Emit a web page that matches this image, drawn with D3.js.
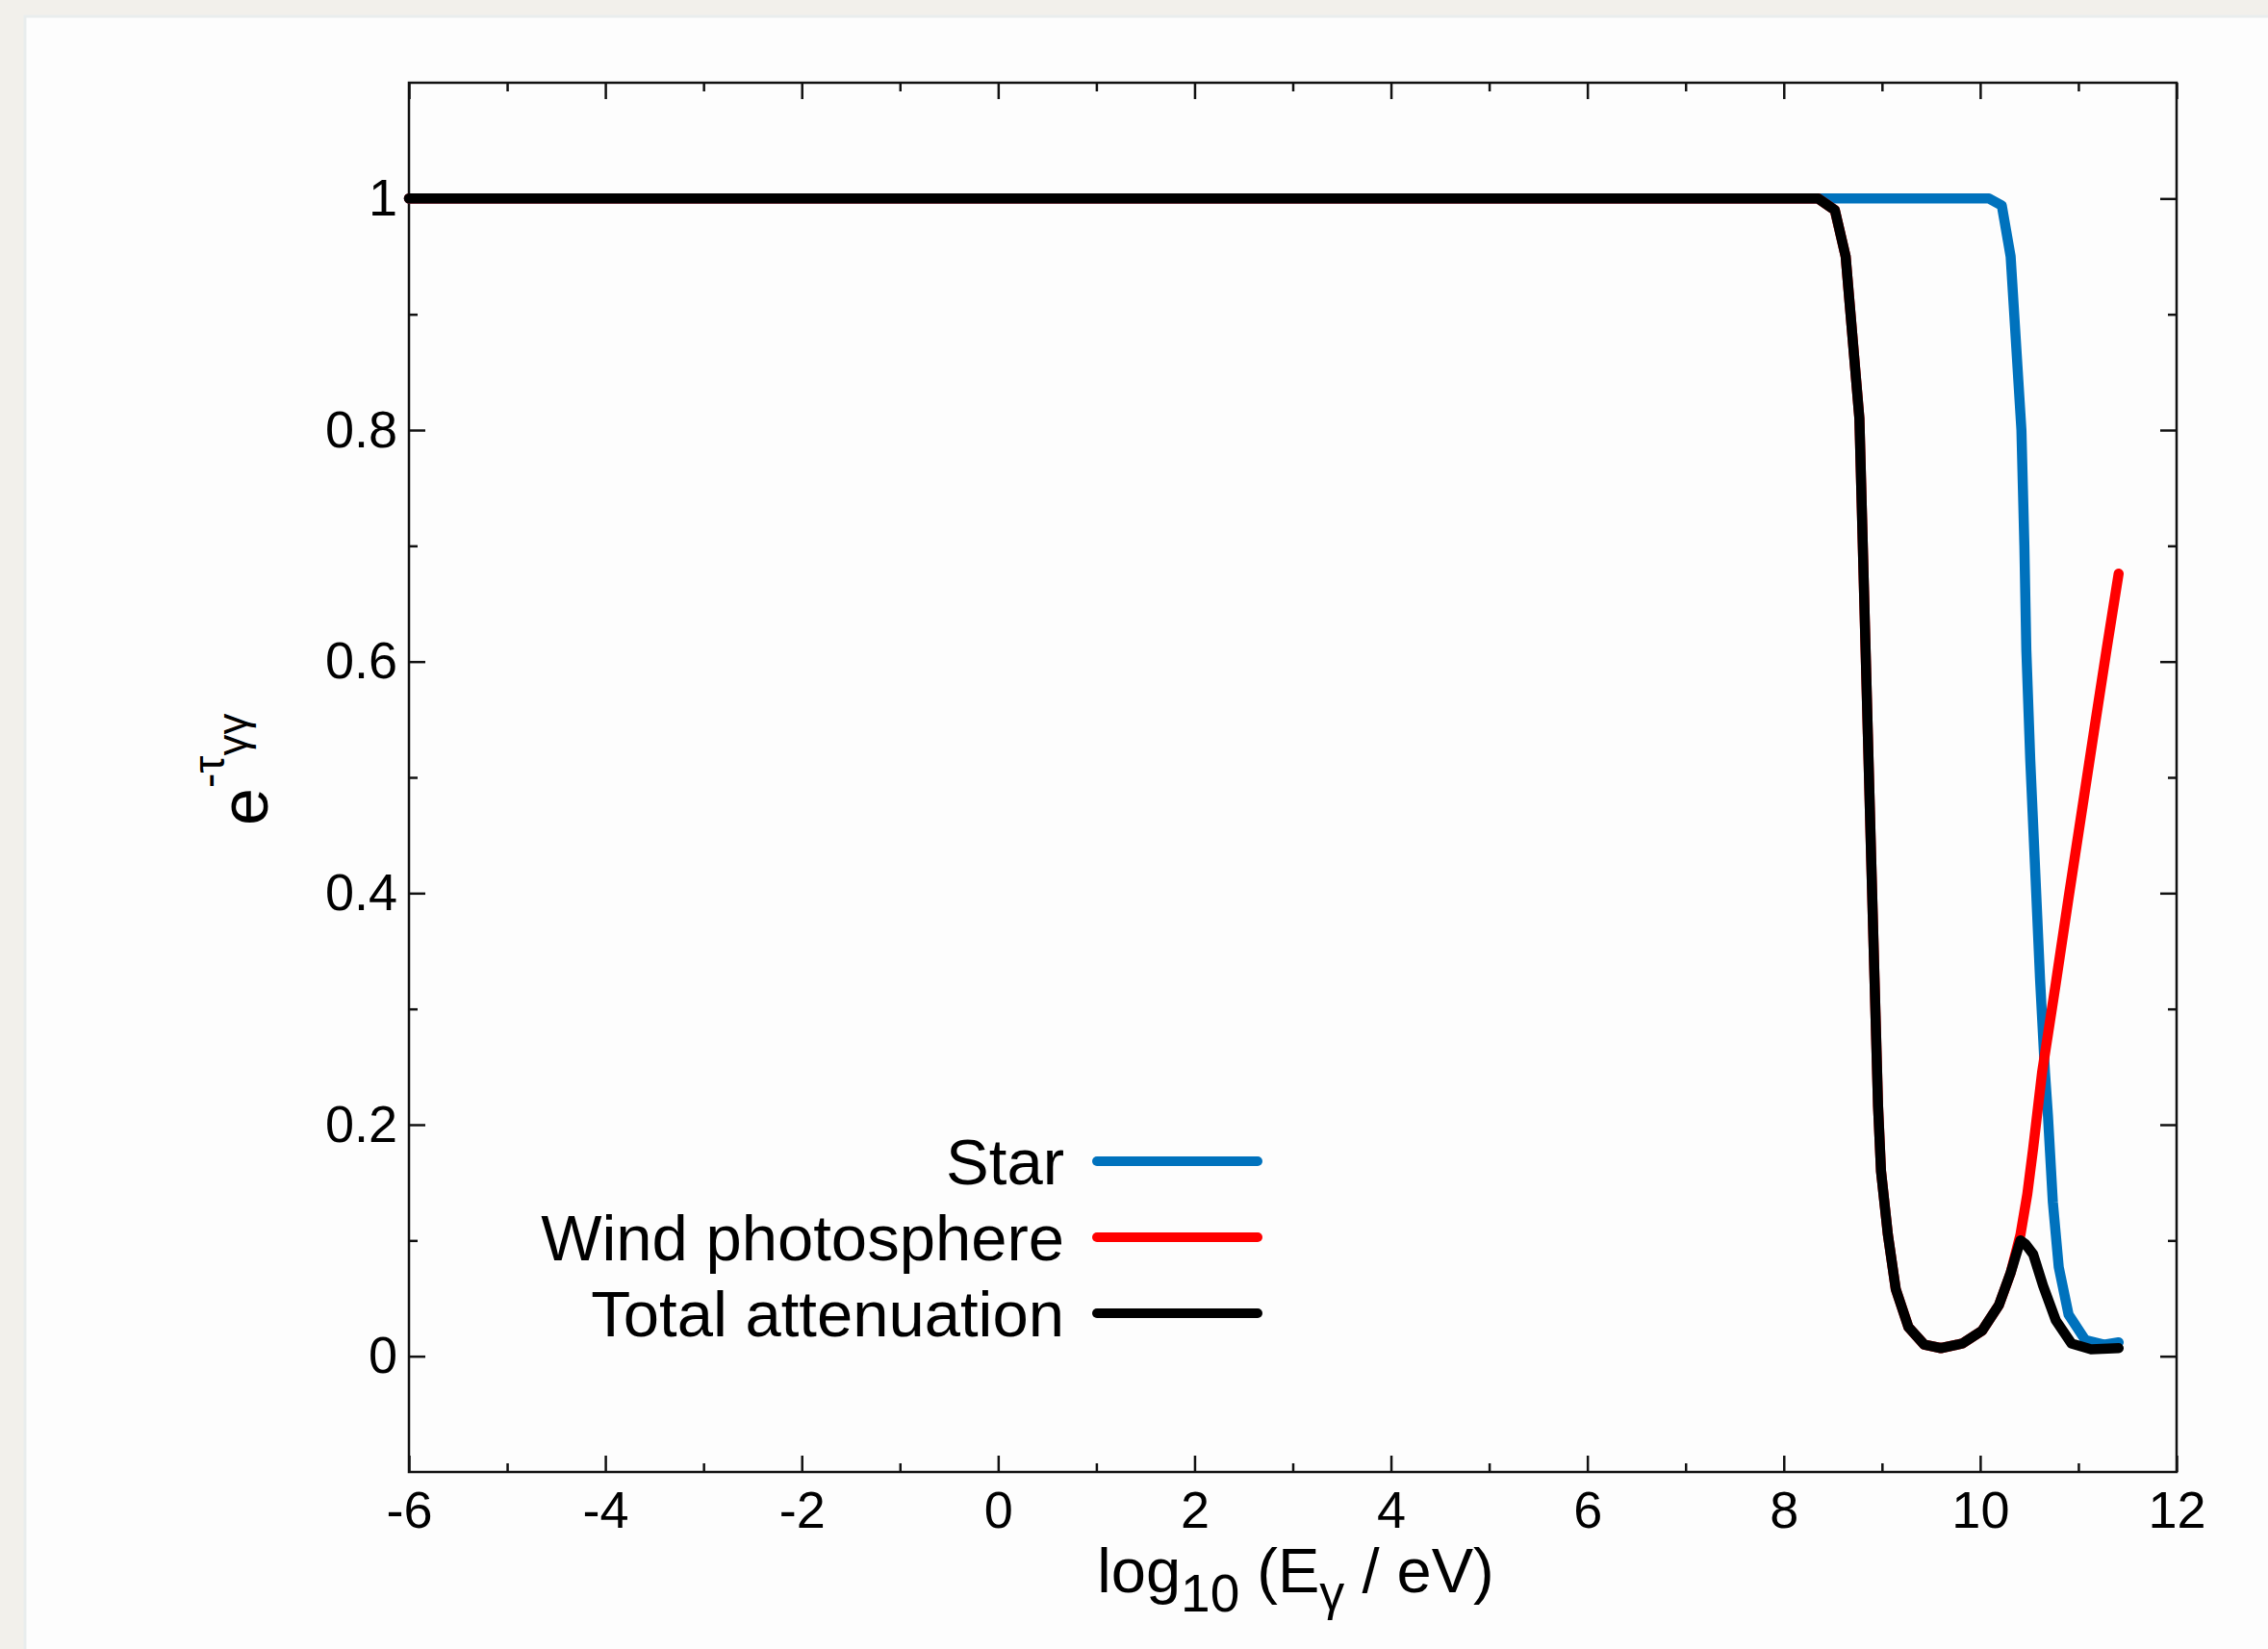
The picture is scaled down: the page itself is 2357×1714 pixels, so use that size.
<!DOCTYPE html>
<html>
<head>
<meta charset="utf-8">
<script src="https://cdn.jsdelivr.net/npm/d3@7"></script>
<style>
body { margin: 0; background: #f2f0eb; }
svg { display: block; font-family: "Liberation Sans", Arial, sans-serif; }
.axis text { font-size: 54px; fill: #000; }
.axis line { stroke: #111; stroke-width: 2.5; }
</style>
</head>
<body>
<svg width="2357" height="1714"></svg>
<script>
// values, x = log10(E / eV)
var starEnergy = [-6, 10.09, 10.22, 10.31, 10.42, 10.45, 10.47, 10.51, 10.56, 10.61, 10.66, 10.69, 10.74, 10.80, 10.90, 11.07, 11.26, 11.41];
var starAtt = [1, 1, 0.994, 0.95, 0.80, 0.70, 0.61, 0.515, 0.42, 0.325, 0.245, 0.208, 0.133, 0.077, 0.036, 0.014, 0.010, 0.012];

var windEnergy = [-6, 8.35, 8.52, 8.63, 8.77, 8.83, 8.89, 8.96, 8.99, 9.06, 9.14, 9.27, 9.43, 9.60, 9.82, 10.02, 10.19, 10.31, 10.41, 10.48, 10.54, 10.63, 10.77, 10.90, 11.03, 11.17, 11.29, 11.41];
var windAtt = [1, 1, 0.99, 0.95, 0.81, 0.62, 0.43, 0.216, 0.16, 0.105, 0.058, 0.025, 0.010, 0.007, 0.011, 0.022, 0.044, 0.072, 0.105, 0.14, 0.18, 0.245, 0.322, 0.396, 0.468, 0.546, 0.612, 0.676];

var totalEnergy = [-6, 8.35, 8.52, 8.63, 8.77, 8.83, 8.89, 8.96, 8.99, 9.06, 9.14, 9.27, 9.43, 9.60, 9.82, 10.02, 10.19, 10.31, 10.41, 10.46, 10.54, 10.64, 10.77, 10.93, 11.13, 11.41];
var totalAtt = [1, 1, 0.99, 0.95, 0.81, 0.62, 0.43, 0.216, 0.16, 0.105, 0.058, 0.025, 0.010, 0.007, 0.011, 0.022, 0.044, 0.072, 0.10, 0.097, 0.088, 0.061, 0.031, 0.011, 0.006, 0.007];

var seriesNames = ["Star", "Wind photosphere", "Total attenuation"];
var seriesColors = ["#0072bd", "#ff0000", "#000000"];

var xTicks = [-6, -4, -2, 0, 2, 4, 6, 8, 10, 12];
var xMinor = [-5, -3, -1, 1, 3, 5, 7, 9, 11];
var yTicks = [0, 0.2, 0.4, 0.6, 0.8, 1];
var yTickLabels = ["0", "0.2", "0.4", "0.6", "0.8", "1"];
var yMinor = [0.1, 0.3, 0.5, 0.7, 0.9];

var svg = d3.select("svg"),
    margin = {
        top: 86,
        right: 95,
        bottom: 184,
        left: 425
    },
    width = +svg.attr("width") - margin.left - margin.right,
    height = +svg.attr("height") - margin.top - margin.bottom;

// white card on the page background
svg.append("rect")
    .attr("x", 26)
    .attr("y", 17)
    .attr("width", 2400)
    .attr("height", 1800)
    .attr("fill", "#fdfdfd")
    .attr("stroke", "#e9eded")
    .attr("stroke-width", 3);

var g = svg.append("g")
    .attr("transform", "translate(" + margin.left + "," + margin.top + ")");

var x = d3.scaleLinear()
    .domain([-6, 12])
    .range([0, width]);

var y = d3.scaleLinear()
    .domain([-0.1, 1.1])
    .range([height, 0]);

function mirror(sel) {
    sel.select(".domain").remove();
}

// major + minor ticks, inward, on all four sides
g.append("g")
    .attr("class", "axis axis--x")
    .attr("transform", "translate(0," + height + ")")
    .call(d3.axisBottom(x).tickValues(xTicks).tickSizeInner(-17).tickSizeOuter(0).tickPadding(20)
        .tickFormat(function(d) { return d < 0 ? "-" + Math.abs(d) : d; }))
    .call(mirror);
g.append("g")
    .attr("class", "axis")
    .attr("transform", "translate(0," + height + ")")
    .call(d3.axisBottom(x).tickValues(xMinor).tickSizeInner(-9).tickSizeOuter(0).tickFormat(""))
    .call(mirror);
g.append("g")
    .attr("class", "axis")
    .call(d3.axisTop(x).tickValues(xTicks).tickSizeInner(-17).tickSizeOuter(0).tickFormat(""))
    .call(mirror);
g.append("g")
    .attr("class", "axis")
    .call(d3.axisTop(x).tickValues(xMinor).tickSizeInner(-9).tickSizeOuter(0).tickFormat(""))
    .call(mirror);

g.append("g")
    .attr("class", "axis axis--y")
    .call(d3.axisLeft(y).tickValues(yTicks).tickSizeInner(-17).tickSizeOuter(0).tickPadding(12)
        .tickFormat(function(d, i) { return yTickLabels[i]; }))
    .call(mirror);
g.append("g")
    .attr("class", "axis")
    .call(d3.axisLeft(y).tickValues(yMinor).tickSizeInner(-9).tickSizeOuter(0).tickFormat(""))
    .call(mirror);
g.append("g")
    .attr("class", "axis")
    .attr("transform", "translate(" + width + ",0)")
    .call(d3.axisRight(y).tickValues(yTicks).tickSizeInner(-17).tickSizeOuter(0).tickFormat(""))
    .call(mirror);
g.append("g")
    .attr("class", "axis")
    .attr("transform", "translate(" + width + ",0)")
    .call(d3.axisRight(y).tickValues(yMinor).tickSizeInner(-9).tickSizeOuter(0).tickFormat(""))
    .call(mirror);

g.append("rect")
    .attr("width", width)
    .attr("height", height)
    .attr("fill", "none")
    .attr("stroke", "#111")
    .attr("stroke-width", 2.5);

var series = [
    { e: starEnergy, v: starAtt },
    { e: windEnergy, v: windAtt },
    { e: totalEnergy, v: totalAtt }
];

var line = d3.line()
    .x(function(d) { return x(d[0]); })
    .y(function(d) { return y(d[1]); });

series.forEach(function(s, i) {
    var pts = s.e.map(function(e, j) { return [e, s.v[j]]; });
    g.append("path")
        .datum(pts)
        .attr("d", line)
        .attr("fill", "none")
        .attr("stroke", seriesColors[i])
        .attr("stroke-width", 10.5)
        .attr("stroke-linejoin", "round")
        .attr("stroke-linecap", "round");
});

// legend
var legend = svg.append("g")
    .attr("class", "legend");

seriesNames.forEach(function(name, i) {
    var ly = 1207 + i * 79;
    legend.append("text")
        .attr("x", 1106)
        .attr("y", ly)
        .attr("dy", "0.36em")
        .attr("text-anchor", "end")
        .style("font-size", "67px")
        .text(name);
    legend.append("line")
        .attr("x1", 1140)
        .attr("x2", 1307)
        .attr("y1", ly)
        .attr("y2", ly)
        .attr("stroke", seriesColors[i])
        .attr("stroke-width", 10)
        .attr("stroke-linecap", "round");
});

// x title: log10 (Eγ / eV)
var xt = svg.append("text")
    .attr("x", margin.left + width / 2 + 3)
    .attr("y", 1655)
    .attr("text-anchor", "middle")
    .style("font-size", "65px");
xt.append("tspan").text("log");
xt.append("tspan").attr("dy", 20).style("font-size", "55px").text("10");
xt.append("tspan").attr("dy", -20).text(" (E");
xt.append("tspan").attr("dy", 18).style("font-size", "52px").text("γ");
xt.append("tspan").attr("dy", -18).text(" / eV)");

// y title: e^{-τ_γγ}
var yt = svg.append("text")
    .attr("transform", "translate(278,858) rotate(-90)")
    .style("font-size", "70px");
yt.append("tspan").text("e");
yt.append("tspan").attr("dy", -45).style("font-size", "46px").text("-τ");
yt.append("tspan").attr("dy", 24).style("font-size", "44px").text("γγ");
</script>
</body>
</html>
